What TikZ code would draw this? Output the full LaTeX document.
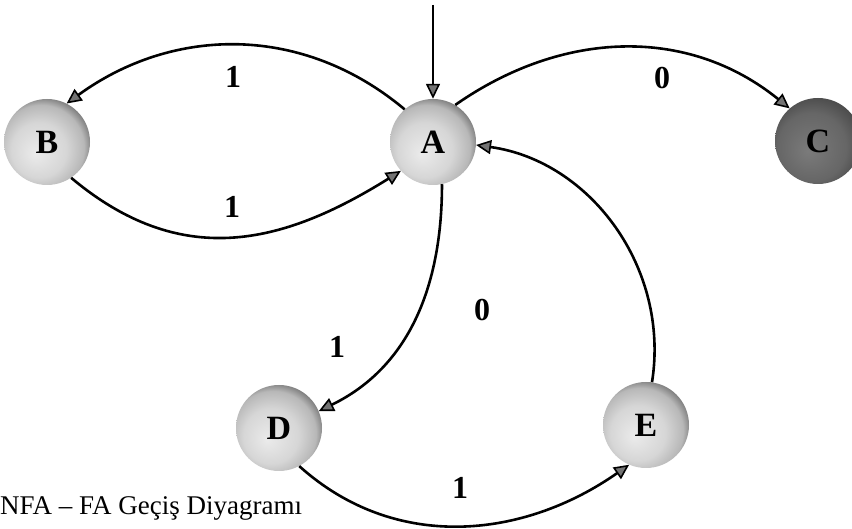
\documentclass[tikz,border=0pt]{standalone}
\usepackage{fontspec}
\setmainfont{Liberation Serif}
\usetikzlibrary{arrows.meta}
\pgfdeclareradialshading{nodeshade}{\pgfpoint{-7bp}{-7bp}}{color(0bp)=(black!8); color(16bp)=(black!16); color(25bp)=(black!28); color(30bp)=(black!55); color(33bp)=(black!70); color(50bp)=(black!70)}
\pgfdeclareradialshading{darkshade}{\pgfpoint{-6bp}{-6bp}}{color(0bp)=(black!52); color(20bp)=(black!60); color(30bp)=(black!72); color(50bp)=(black!72)}
\begin{document}
\begin{tikzpicture}[x=1pt,y=1pt,
  state/.style={circle, minimum size=86pt, inner sep=0pt, shade, shading=nodeshade,
    font=\fontsize{34}{34}\selectfont\bfseries},
  darkstate/.style={state, shading=darkshade},
  edge/.style={line width=2.6pt, -{Triangle[length=15pt,width=14pt,fill=black!55,line width=1.6pt]}},
  lbl/.style={inner sep=0pt, font=\fontsize{32}{32}\selectfont\bfseries},
  caption/.style={inner sep=0pt, anchor=base west, font=\fontsize{27}{27}\selectfont}]
\useasboundingbox (0,0) rectangle (852,529);
\node[state] (B) at (47,387) {B};
\node[state] (A) at (433,387) {A};
\node[darkstate] (C) at (818,388) {C};
\node[state] (D) at (279,101) {D};
\node[state] (E) at (646,104) {E};
\coordinate (start) at (433,524);
\draw[edge] (start) -- (A);
\draw[edge] (A.131) to[out=140,in=36] (B.63);
\draw[edge] (B.-56) to[out=-40,in=212,looseness=1.1] (A.222);
\draw[edge] (A.59) to[out=35,in=141] (C.131);
\draw[edge] (A.-78) to[out=-90,in=26] (D.23);
\draw[edge] (E.82) to[out=81,in=-8] (A.-4);
\draw[edge] (D.-62) to[out=-42,in=215] (E.-113);
\node[lbl] (l1) at (233,452) {1};
\node[lbl] (l2) at (662,451) {0};
\node[lbl] (l3) at (232,322) {1};
\node[lbl] (l4) at (482,219) {0};
\node[lbl] (l5) at (337,182) {1};
\node[lbl] (l6) at (460,41) {1};
\node[caption] (cap) at (0,14) {NFA – FA Geçiş Diyagramı};
\end{tikzpicture}
\end{document}
